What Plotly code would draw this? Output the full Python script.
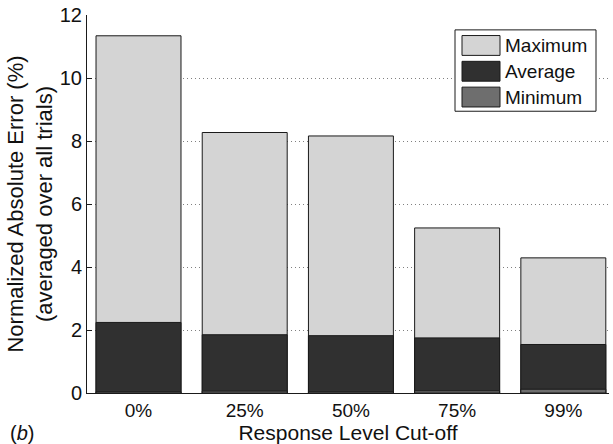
import plotly.graph_objects as go

# Response level cut-offs and normalized absolute error (%) per statistic
cutoffs = ["0%", "25%", "50%", "75%", "99%"]
err_max = [11.34, 8.27, 8.16, 5.24, 4.29]
err_avg = [2.24, 1.85, 1.82, 1.75, 1.54]
err_min = [0.04, 0.06, 0.04, 0.07, 0.12]

series_names = ["Maximum", "Average", "Minimum"]
series_colors = ["#d4d4d4", "#303030", "#6e6e6e"]
series_values = [err_max, err_avg, err_min]

FONT = "Liberation Sans, Arial, Helvetica, sans-serif"
W, H = 613, 444
ML, MR, MT, MB = 87, 4, 12, 51

fig = go.Figure()
for name, color, vals in zip(series_names, series_colors, series_values):
    fig.add_trace(go.Bar(
        x=cutoffs, y=vals, name=name, width=0.8,
        marker=dict(color=color, line=dict(color="#1a1a1a", width=1)),
        showlegend=False,
    ))

# Boxed legend with wide swatches, placed in pixel space of the plot area
def px_x(px):
    return (px - ML) / (W - ML - MR)

def px_y(py):
    return 1 - (py - MT) / (H - MT - MB)

shapes = [dict(type="rect", xref="paper", yref="paper",
               x0=px_x(455), x1=px_x(596), y0=px_y(109), y1=px_y(27),
               line=dict(color="#1a1a1a", width=1), fillcolor="white", layer="above")]
annotations = []
for i, (name, color) in enumerate(zip(series_names, series_colors)):
    cy = 42.7 + 26 * i
    shapes.append(dict(type="rect", xref="paper", yref="paper",
                       x0=px_x(462), x1=px_x(500), y0=px_y(cy + 10), y1=px_y(cy - 10),
                       line=dict(color="#1a1a1a", width=1), fillcolor=color, layer="above"))
    annotations.append(dict(text=name, xref="paper", yref="paper",
                            x=px_x(503), y=px_y(cy), xanchor="left", yanchor="middle",
                            showarrow=False, font=dict(size=19, color="#111", family=FONT)))

annotations.append(dict(text="(<i>b</i>)", xref="paper", yref="paper",
                        x=px_x(8), y=px_y(433), xanchor="left", yanchor="middle",
                        showarrow=False, font=dict(size=20, color="#111", family=FONT)))

fig.update_layout(
    width=W, height=H,
    margin=dict(l=ML, r=MR, t=MT, b=MB),
    barmode="overlay",
    plot_bgcolor="white", paper_bgcolor="white",
    font=dict(family=FONT, color="#111"),
    shapes=shapes, annotations=annotations,
)
fig.update_xaxes(
    range=[-0.485, 4.43],
    showline=True, linecolor="#1a1a1a", linewidth=1,
    ticks="", showgrid=False,
    tickfont=dict(size=19),
    title=dict(text="Response Level Cut-off", font=dict(size=21), standoff=4),
)
fig.update_yaxes(
    range=[0, 12], tick0=0, dtick=2,
    showline=True, linecolor="#1a1a1a", linewidth=1,
    ticks="inside", ticklen=5, tickcolor="#1a1a1a",
    showgrid=True, gridcolor="#808080", gridwidth=1, griddash="1px,3px",
    zeroline=False,
    tickfont=dict(size=20),
    title=dict(text="Normalized Absolute Error (%)<br>(averaged over all trials)",
               font=dict(size=22), standoff=1),
)

fig.write_html("out.html")
